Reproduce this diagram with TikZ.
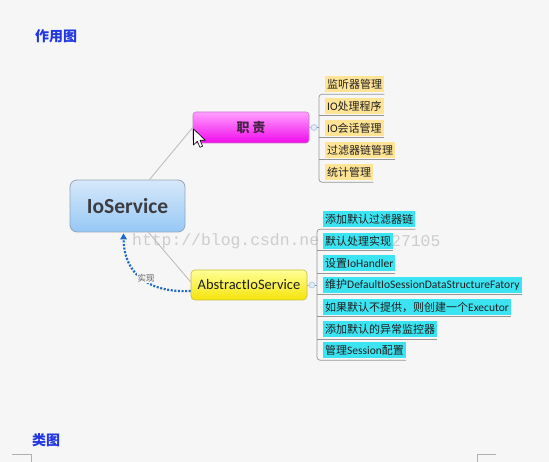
\documentclass[tikz,border=0pt]{standalone}
\usepackage{fontspec}
\setmainfont{Carlito}
\newfontfamily\cjk{Noto Sans CJK SC}
\newfontfamily\wmfont{Liberation Mono}
\usetikzlibrary{calc,arrows.meta}
\definecolor{bg}{RGB}{246,246,246}
\definecolor{titleblue}{RGB}{35,55,225}
\definecolor{edgegray}{RGB}{185,185,185}
\definecolor{brkgray}{RGB}{150,150,150}
\definecolor{ioTop}{RGB}{215,232,250}
\definecolor{ioBot}{RGB}{150,200,245}
\definecolor{ioBorder}{RGB}{150,165,185}
\definecolor{mgTop}{RGB}{255,160,255}
\definecolor{mgBot}{RGB}{240,10,235}
\definecolor{ylTop}{RGB}{255,255,150}
\definecolor{ylBot}{RGB}{245,228,10}
\definecolor{itemY}{RGB}{255,228,150}
\definecolor{itemC}{RGB}{60,228,242}
\definecolor{implblue}{RGB}{30,105,205}
\definecolor{knob}{RGB}{170,195,230}
\definecolor{knobfill}{RGB}{225,235,250}
\definecolor{wmgray}{RGB}{205,205,205}
\definecolor{markgray}{RGB}{175,175,175}
\definecolor{iotext}{RGB}{60,60,65}
\definecolor{mgborder}{RGB}{200,120,200}
\definecolor{mgtext}{RGB}{70,35,70}
\definecolor{ylborder}{RGB}{200,190,60}
\definecolor{darktext}{RGB}{30,30,30}
\definecolor{lbltext}{RGB}{90,90,90}
\newcommand{\zh}[1]{{\cjk\fontsize{11}{13}\selectfont #1}}
\tikzset{
  titletext/.style={font=\cjk\bfseries\fontsize{14}{16}\selectfont, text=titleblue, inner sep=0},
  edge/.style={draw=edgegray, line width=0.8},
  brk/.style={draw=brkgray, line width=0.7},
  item/.style={anchor=west, inner sep=2pt, minimum height=16, font=\fontsize{11.5}{13}\selectfont, text=darktext},
  itemy/.style={item, fill=itemY},
  itemc/.style={item, fill=itemC},
  knobstyle/.style={circle, draw=knob, fill=knobfill, line width=0.6, inner sep=0, minimum size=6},
  wm/.style={anchor=west, inner sep=0, text=wmgray, font=\wmfont\fontsize{16.4}{18}\selectfont},
  lblstyle/.style={inner sep=1pt, fill=bg, font=\cjk\fontsize{8.5}{10}\selectfont, text=lbltext}
}
\begin{document}
\begin{tikzpicture}[x=1pt,y=-1pt]
\fill[bg] (0,0) rectangle (549,462);
\useasboundingbox (0,0) rectangle (549,462);

% watermark
\node[wm] (wm1) at (132,241) {http://blog.csdn.ne};
\node[wm] (wm2) at (391,241) {27105};

% titles
\node[titletext] (t1) at (56,36) {作用图};
\node[titletext] (t2) at (46,440) {类图};

% main nodes
\node[draw=ioBorder, line width=0.8, rounded corners=7, top color=ioTop, bottom color=ioBot,
      minimum width=115, minimum height=52, inner sep=0,
      font=\bfseries\fontsize{21.5}{23}\selectfont, text=iotext] (io) at (127.5,206) {IoService};
\node[draw=mgborder, line width=0.6, rounded corners=3, top color=mgTop, bottom color=mgBot,
      minimum width=116, minimum height=31, inner sep=0,
      font=\cjk\bfseries\fontsize{13}{15}\selectfont, text=mgtext] (zz) at (251,127.5) {职\ 责};
\node[draw=ylborder, line width=0.6, rounded corners=4, top color=ylTop, bottom color=ylBot,
      minimum width=116, minimum height=30, inner sep=0,
      font=\fontsize{14.5}{16}\selectfont, text=darktext] (abs) at (249,285) {AbstractIoService};

% edges from root
\draw[edge] ($(io.north)+(22,0)$) -- (zz.west);
\draw[edge] ($(io.south)+(21,0)$) -- ($(abs.west)+(0,-3)$);

% implementation arrow
\coordinate (lblpos) at (146,278);
\draw[implblue, line width=2.2, dash pattern=on 2pt off 1.6pt, -{Triangle[length=6,width=6.5]}]
  ($(abs.west)+(0,6)$) .. controls (150,293) and (124,275) .. ($(io.south)+(-4,1)$);
\node[lblstyle] (lbl) at (lblpos) {实现};

% knobs
\node[knobstyle] (k1) at (314,127.5) {};
\node[knobstyle] (k2) at (312,285) {};
\draw[edge] (zz.east) -- (k1);
\draw[edge] (abs.east) -- (k2);
\coordinate (v1) at (319,127.5);
\coordinate (v2) at (317,285);
\draw[brk] (k1) -- (v1);
\draw[brk] (k2) -- (v2);

% children of 职责
\node[itemy] (a1) at (325,84.5) {\zh{监听器管理}};
\node[itemy] (a2) at (325,106) {IO\zh{处理程序}};
\node[itemy] (a3) at (325,128) {IO\zh{会话管理}};
\node[itemy] (a4) at (325,150) {\zh{过滤器链管理}};
\node[itemy] (a5) at (325,172.5) {\zh{统计管理}};
\draw[brk, rounded corners=3] ($(a1.south east)+(0,1.5)$) -- ($(a1.south west)+(-6,1.5)$) -- ($(a5.south west)+(-6,1.5)$) -- ($(a5.south east)+(0,1.5)$);
\foreach \n in {a2,a3,a4}{
  \draw[brk] ($(\n.south west)+(-6,1.5)$) -- ($(\n.south east)+(0,1.5)$);
}

% children of AbstractIoService
\node[itemc] (b1) at (323,219.5) {\zh{添加默认过滤器链}};
\node[itemc] (b2) at (323,241) {\zh{默认处理实现}};
\node[itemc] (b3) at (323,263.5) {\zh{设置}IoHandler};
\node[itemc] (b4) at (323,285) {\zh{维护}DefaultIoSessionDataStructureFatory};
\node[itemc] (b5) at (323,307) {\zh{如果默认不提供，则创建一个}Executor};
\node[itemc] (b6) at (323,329.5) {\zh{添加默认的异常监控器}};
\node[itemc] (b7) at (323,350.5) {\zh{管理}Session\zh{配置}};
\draw[brk, rounded corners=3] ($(b1.south east)+(0,1.5)$) -- ($(b1.south west)+(-6,1.5)$) -- ($(b7.south west)+(-6,1.5)$) -- ($(b7.south east)+(0,1.5)$);
\foreach \n in {b2,b3,b4,b5,b6}{
  \draw[brk] ($(\n.south west)+(-6,1.5)$) -- ($(\n.south east)+(0,1.5)$);
}

% mouse cursor
\draw[fill=white, line width=0.6, line join=round] (193.5,129) -- (193.5,145) -- (197.3,141.3) -- (200,147.3) -- (202.6,146.2) -- (200,140.3) -- (205.3,140.3) -- cycle;

% page corner marks
\draw[draw=markgray, line width=0.8] (12,454) -- (31,454) -- (31,462);
\draw[draw=markgray, line width=0.8] (496,454) -- (477,454) -- (477,462);
\end{tikzpicture}
\end{document}
